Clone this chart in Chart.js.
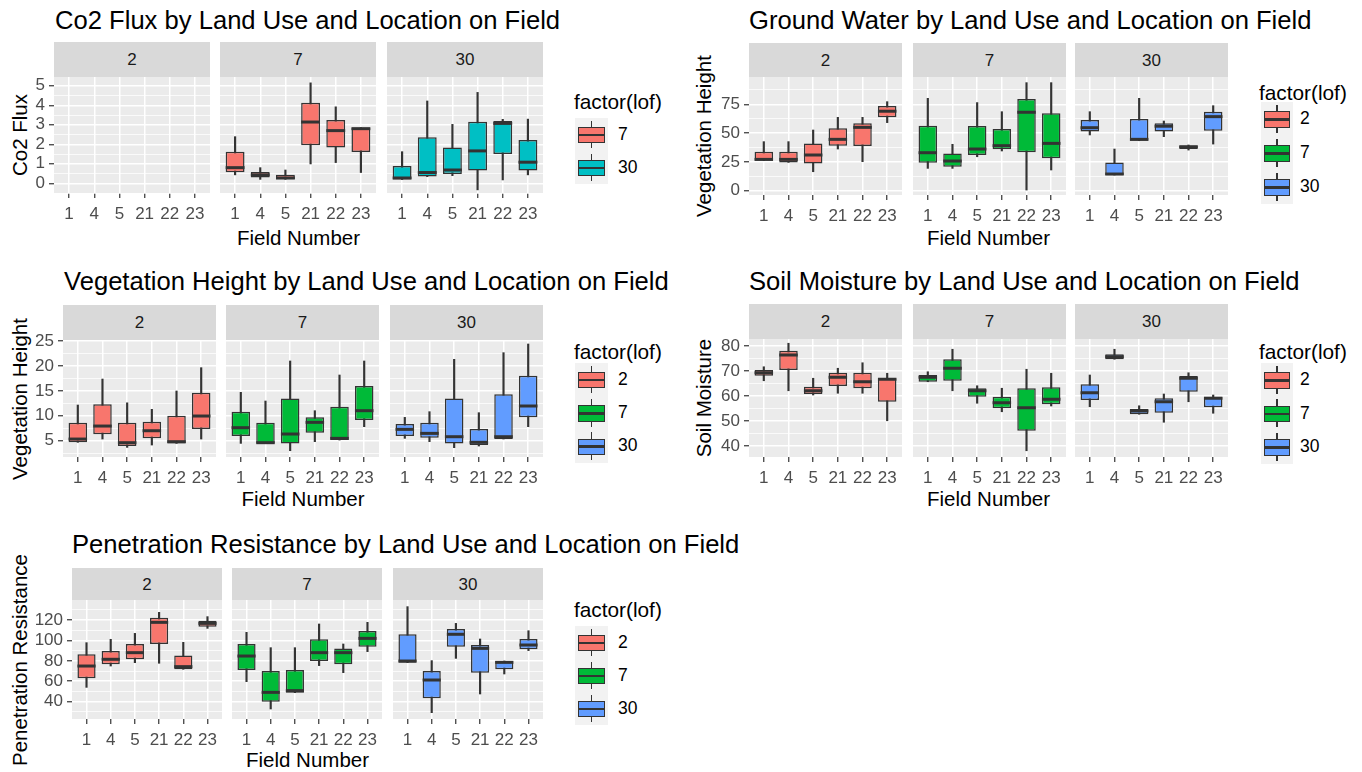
<!DOCTYPE html>
<html><head><meta charset="utf-8">
<script src="https://cdn.jsdelivr.net/npm/chart.js@4.4.0/dist/chart.umd.min.js"></script>
<style>
html,body{margin:0;padding:0;background:#fff;}
body{width:1362px;height:772px;overflow:hidden;position:relative;font-family:"Liberation Sans",Arial,sans-serif;}
.t{position:absolute;line-height:1;white-space:nowrap;}
canvas{position:absolute;}
.strip{position:absolute;background:#D9D9D9;color:#1A1A1A;display:flex;align-items:center;justify-content:center;line-height:1;}
.key{position:absolute;background:#F2F2F2;}
.key div{position:absolute;box-sizing:border-box;}
</style></head><body>
<script>
// ---------- categories ----------
const FIELDS = ['1','4','5','21','22','23'];
const FIELD_X = [1,2,3,4,5,6];
const FACETS = ['2','7','30'];

// ---------- five-number summaries: [lower whisker, Q1, median, Q3, upper whisker] ----------
const co2Flux_2 = [];
const co2Flux_7 = [[0.43,0.56,0.8,1.62,2.39],[0.2,0.29,0.43,0.58,0.8],[0.2,0.2,0.27,0.43,0.68],[0.99,1.95,3.14,4.13,5.15],[1.06,1.83,2.7,3.24,3.92],[0.55,1.6,2.8,2.85,2.85]];
const co2Flux_30 = [[0.19,0.19,0.27,0.89,1.62],[0.34,0.34,0.55,2.36,4.22],[0.39,0.48,0.68,1.83,3.02],[-0.34,0.65,1.66,3.16,4.66],[0.17,1.5,3.07,3.19,3.28],[0.43,0.65,1.08,2.22,3.29]];

const groundWater_2 = [[26.1,26.1,27.2,33.9,42.6],[24.6,24.6,27.2,33.9,42.6],[16.5,23.7,31,41.1,52.7],[36.2,39.1,44.6,54.2,63.7],[25.2,38.8,55,58.5,63.7],[59.1,63.7,69,73.6,77.3]];
const groundWater_7 = [[19.4,24.3,33,56.5,80.2],[19.4,20.9,25.8,32.4,40.3],[29.5,31,36.2,56.2,76.5],[34.5,35.9,39.1,53.6,68.6],[0.6,33.3,68.1,79.6,93.8],[18,28.1,41.1,67.2,93.8]];
const groundWater_30 = [[48.4,51.3,54.7,61.4,68.6],[13.6,13.6,14.5,24.6,36.2],[43.4,43.4,44.6,62.3,80.2],[46.9,51.3,56,58.5,60.5],[35.3,36.2,38.2,39.1,39.7],[40.5,52.1,64.3,68.6,73.8]];

const vegHeight_2 = [[4.67,4.67,5.33,8.61,12.16],[5.33,6.27,7.94,12.29,17.37],[3.66,3.93,4.6,8.6,12.6],[4.13,5.47,7.0,8.81,11.29],[4.46,4.46,4.8,10.0,14.97],[5.33,7.34,9.95,14.63,19.65]];
const vegHeight_7 = [[4.46,5.94,7.61,10.82,14.7],[4.46,4.46,4.6,8.61,12.96],[2.99,4.46,6.34,13.49,20.99],[4.8,6.6,8.68,9.68,11.02],[5.13,5.13,5.47,11.82,18.18],[7.81,9.15,11.02,15.97,20.99]];
const vegHeight_30 = [[5.47,5.94,7.27,8.34,9.68],[4.8,5.6,6.47,8.61,10.82],[3.6,4.46,5.8,13.49,21.32],[3.93,4.13,4.67,7.34,10.62],[5.33,5.33,5.8,14.3,22.66],[7.81,9.68,11.96,18.04,24.4]];

const soilMoisture_2 = [[66.1,68.1,69.3,70.4,71.7],[62.1,70.4,76.4,78.1,81.1],[60.4,60.8,62.1,63.7,67.1],[61.1,64,67.5,69.3,71.1],[61.1,63.1,65.7,69.3,73.3],[50.1,57.7,66.7,67.1,69.1]];
const soilMoisture_7 = [[65.7,65.7,67.5,68.4,69.7],[62.1,66.1,71.1,74.7,78.7],[57.1,59.7,62.1,63.1,64.1],[53.7,55.1,57.3,59.7,63.1],[38.1,46.1,55.3,63.1,70.7],[56,56.7,58.7,63.5,69.1]];
const soilMoisture_30 = [[55.7,58.4,61.3,64.7,68.4],[74.7,74.7,75.7,76.7,78.7],[52.7,52.7,54,54.8,56.1],[49.5,53.3,57.7,59.1,60.8],[57.7,61.7,67.1,68,69.3],[53.1,55.5,59.1,59.7,60.4]];

const penResist_2 = [[54,62.9,74.9,86.4,97.8],[74.9,76.6,81.5,89.6,101.1],[78.2,81.5,88,96.5,106.9],[77.6,96.5,117.7,122.3,127.5],[71.7,71.7,74.3,85.1,98.1],[111.8,113.5,116.7,119.3,123.3]];
const penResist_7 = [[59.6,71,84.7,96.5,107.9],[32.8,40,49.1,70,92.9],[48.8,48.8,50.8,71,92.9],[75.3,79.8,88,101.1,116.1],[68.4,76.6,88,92.2,96.5],[89,93.9,102,109.2,117.7]];
const penResist_30 = [[78.2,78.2,79.8,106,133.1],[29.2,43.3,61.2,70,80.2],[82.4,93.9,106,111.2,116.7],[47.5,68.4,92.2,95.5,101.4],[67.1,71.7,78.5,79.8,79.8],[90,91.3,95.5,101.4,109.5]];

// ---------- tick labels ----------
const co2Ticks = [0,1,2,3,4,5];
const gwTicks = [0,25,50,75];
const vhTicks = [5,10,15,20,25];
const smTicks = [40,50,60,70,80];
const prTicks = [40,60,80,100,120];
const co2Legend = ['7','30'];
const lofLegend = ['2','7','30'];

// ---------- styling ----------
const FONT = '"Liberation Sans", Arial, sans-serif';
function fontAvailable(name) {
  const c = document.createElement('canvas').getContext('2d');
  c.font = '20px monospace';
  const a = c.measureText('abcdefghij0123456789').width;
  c.font = `20px "${name}", monospace`;
  const b = c.measureText('abcdefghij0123456789').width;
  return Math.abs(a - b) > 0.5;
}
const HAS_NARROW = fontAvailable('Liberation Sans Narrow');
const SMALL_FONT = HAS_NARROW ? '"Liberation Sans Narrow", "Liberation Sans", Arial, sans-serif' : FONT;
const SMALL_SIZE = HAS_NARROW ? 19.5 : 17;

const RED = '#F8766D', GREEN = '#00BA38', BLUE = '#619CFF', TEAL = '#00BFC4';
const LINE = '#333333';

const panels = [
  {title:'Co2 Flux by Land Use and Location on Field', titleX:55, titleY:21, yTitle:'Co2 Flux', yTitleX:19.5, yTitleY:135,
   facetX:[54,220,387], facetW:156, stripTop:42, plotTop:77, plotBottom:193, yMin:-0.5, yMax:5.45, majors:co2Ticks,
   data:[co2Flux_2, co2Flux_7, co2Flux_30], colors:[RED, RED, TEAL], xTitleY:238,
   legend:{titleX:574, titleY:102, keyX:575, keyTop:118, keyH:33, keyW:33, labelX:618, labels:co2Legend, colors:[RED,TEAL]}},
  {title:'Ground Water by Land Use and Location on Field', titleX:749, titleY:21, yTitle:'Vegetation Height', yTitleX:704, yTitleY:136,
   facetX:[749,913,1075], facetW:153, stripTop:43, plotTop:77, plotBottom:195, yMin:-3.7, yMax:98.7, majors:gwTicks,
   data:[groundWater_2, groundWater_7, groundWater_30], colors:[RED, GREEN, BLUE], xTitleY:238,
   legend:{titleX:1259, titleY:93, keyX:1261, keyTop:102, keyH:34, keyW:32, labelX:1300, labels:lofLegend, colors:[RED,GREEN,BLUE]}},
  {title:'Vegetation Height by Land Use and Location on Field', titleX:64, titleY:282, yTitle:'Vegetation Height', yTitleX:19.5, yTitleY:398.5,
   facetX:[63,226,390], facetW:153, stripTop:305, plotTop:340, plotBottom:457, yMin:1.73, yMax:25.2, majors:vhTicks,
   data:[vegHeight_2, vegHeight_7, vegHeight_30], colors:[RED, GREEN, BLUE], xTitleY:499,
   legend:{titleX:574, titleY:352, keyX:575, keyTop:363, keyH:33.3, keyW:33, labelX:618, labels:lofLegend, colors:[RED,GREEN,BLUE]}},
  {title:'Soil Moisture by Land Use and Location on Field', titleX:749, titleY:282, yTitle:'Soil Moisture', yTitleX:704, yTitleY:398,
   facetX:[749,913,1075], facetW:153, stripTop:304, plotTop:339, plotBottom:457, yMin:35.6, yMax:82.8, majors:smTicks,
   data:[soilMoisture_2, soilMoisture_7, soilMoisture_30], colors:[RED, GREEN, BLUE], xTitleY:499,
   legend:{titleX:1259, titleY:352, keyX:1261, keyTop:363, keyH:33.7, keyW:32, labelX:1300, labels:lofLegend, colors:[RED,GREEN,BLUE]}},
  {title:'Penetration Resistance by Land Use and Location on Field', titleX:72, titleY:545, yTitle:'Penetration Resistance', yTitleX:19.5, yTitleY:659.5,
   facetX:[72,232,393], facetW:150, stripTop:568, plotTop:600, plotBottom:719, yMin:23, yMax:139.6, majors:prTicks,
   data:[penResist_2, penResist_7, penResist_30], colors:[RED, GREEN, BLUE], xTitleY:760,
   legend:{titleX:574, titleY:610, keyX:575, keyTop:626, keyH:33, keyW:33, labelX:618, labels:lofLegend, colors:[RED,GREEN,BLUE]}}
];

function addText(str, x, y, size, color, mode, family) {
  const d = document.createElement('div');
  d.className = 't';
  d.textContent = str;
  d.style.fontSize = size + 'px';
  d.style.color = color;
  if (family) d.style.fontFamily = family;
  d.style.left = x + 'px';
  d.style.top = y + 'px';
  if (mode === 'center') d.style.transform = 'translate(-50%,-50%)';
  else if (mode === 'rot') d.style.transform = 'translate(-50%,-50%) rotate(-90deg)';
  else d.style.transform = 'translate(0,-50%)';
  document.body.appendChild(d);
}

function addStrip(label, x, y, w, h) {
  const d = document.createElement('div');
  d.className = 'strip';
  d.style.left = x + 'px'; d.style.top = y + 'px';
  d.style.width = w + 'px'; d.style.height = h + 'px';
  d.style.fontFamily = SMALL_FONT; d.style.fontSize = SMALL_SIZE + 'px';
  d.textContent = label;
  document.body.appendChild(d);
}

function addKey(x, y, w, h, color) {
  const k = document.createElement('div');
  k.className = 'key';
  k.style.left = x + 'px'; k.style.top = y + 'px';
  k.style.width = w + 'px'; k.style.height = h + 'px';
  const wh = document.createElement('div');
  wh.style.cssText = `left:${w/2-0.75}px;top:${h*0.08}px;width:1.5px;height:${h*0.83}px;background:${LINE};`;
  const bx = document.createElement('div');
  bx.style.cssText = `left:${w*0.1}px;top:${h*0.27}px;width:${w*0.8}px;height:${h*0.49}px;background:${color};border:1.5px solid ${LINE};`;
  const md = document.createElement('div');
  md.style.cssText = `left:${w*0.1}px;top:${h*0.515-1.25}px;width:${w*0.8}px;height:2.5px;background:${LINE};`;
  k.appendChild(wh); k.appendChild(bx); k.appendChild(md);
  document.body.appendChild(k);
}

const bgPlugin = {
  id: 'panelBg',
  beforeDraw(chart) {
    const {ctx, chartArea: a} = chart;
    ctx.save();
    ctx.fillStyle = '#EBEBEB';
    ctx.fillRect(a.left, a.top, a.right - a.left, a.bottom - a.top);
    ctx.restore();
  }
};

function facetChart(p, fi) {
  const stats = p.data[fi];
  const first = fi === 0;
  const axW = first ? 50 : 0, padT = 12, axH = 40;
  const plotL = p.facetX[fi], plotW = p.facetW, plotH = p.plotBottom - p.plotTop;
  const cv = document.createElement('canvas');
  cv.width = axW + plotW; cv.height = padT + plotH + axH;
  cv.style.left = (plotL - axW) + 'px';
  cv.style.top = (p.plotTop - padT) + 'px';
  cv.style.width = cv.width + 'px'; cv.style.height = cv.height + 'px';
  document.body.appendChild(cv);

  const step = p.majors[1] - p.majors[0];
  const isMajor = v => p.majors.some(m => Math.abs(m - v) < 1e-9);
  const yTicks = [];
  for (let v = p.majors[0] - step / 2; v <= p.majors[p.majors.length - 1] + step / 2 + 1e-9; v += step / 2) {
    const r = +v.toFixed(6);
    if (r >= p.yMin && r <= p.yMax) yTicks.push(r);
  }

  const whisk = stats.map((s, i) => ({x: FIELD_X[i], y: [s[0], s[4]]}));
  const box = stats.map((s, i) => ({x: FIELD_X[i], y: [s[1], s[3]]}));
  const med = stats.map((s, i) => ({x: FIELD_X[i], y: s[2]}));
  const halfBox = ctx => {
    const s = ctx.chart.scales.x;
    return Math.abs(s.getPixelForValue(1.375) - s.getPixelForValue(1));
  };
  const color = p.colors[fi];

  new Chart(cv, {
    type: 'bar',
    data: {datasets: [
      {type: 'bar', data: whisk, backgroundColor: LINE, borderWidth: 0, barThickness: 1.5, grouped: false, order: 3},
      {type: 'bar', data: box, backgroundColor: color, borderColor: LINE, borderWidth: 1.5, borderSkipped: false,
       barPercentage: 0.75, categoryPercentage: 1, grouped: false, order: 2},
      {type: 'line', data: med, showLine: false, pointStyle: 'line', pointRadius: halfBox, pointHoverRadius: halfBox,
       pointBorderColor: LINE, pointBorderWidth: 3, order: 1}
    ]},
    options: {
      responsive: false, animation: false, devicePixelRatio: 1, events: [],
      layout: {padding: {top: padT, left: 0, right: 0, bottom: 0}, autoPadding: false},
      plugins: {legend: {display: false}, tooltip: {enabled: false}},
      scales: {
        x: {
          type: 'linear', min: 0.4, max: 6.6, offset: false, bounds: 'data',
          grid: {offset: false, color: '#FFFFFF', lineWidth: 1.5, tickColor: LINE, tickLength: 5, tickWidth: 1.2, drawTicks: true},
          border: {display: false},
          afterBuildTicks: s => { s.ticks = FIELD_X.map(v => ({value: v})); },
          ticks: {autoSkip: false, maxRotation: 0, minRotation: 0, padding: 6, color: '#4D4D4D', font: {family: SMALL_FONT, size: SMALL_SIZE},
                  callback: v => FIELDS[FIELD_X.indexOf(v)]},
          afterFit: s => { s.height = axH; s.paddingLeft = 0; s.paddingRight = 0; }
        },
        y: {
          type: 'linear', min: p.yMin, max: p.yMax, bounds: 'data',
          grid: {color: '#FFFFFF',
                 lineWidth: c => (c.tick && !isMajor(c.tick.value)) ? 0.75 : 1.5,
                 tickColor: c => (first && c.tick && isMajor(c.tick.value)) ? LINE : 'rgba(0,0,0,0)',
                 tickLength: 5, tickWidth: 1.2, drawTicks: first},
          border: {display: false},
          afterBuildTicks: s => { s.ticks = yTicks.map(v => ({value: v})); },
          ticks: {display: first, padding: 4, color: '#4D4D4D', font: {family: SMALL_FONT, size: SMALL_SIZE}, autoSkip: false,
                  callback: v => isMajor(v) ? String(v) : ''},
          afterFit: s => { s.width = axW; s.paddingTop = 0; s.paddingBottom = 0; }
        }
      }
    },
    plugins: [bgPlugin]
  });
}

panels.forEach(p => {
  addText(p.title, p.titleX, p.titleY, 25.6, '#000', 'left');
  addText(p.yTitle, p.yTitleX, p.yTitleY, 20.5, '#000', 'rot');
  const xc = (p.facetX[0] + p.facetX[2] + p.facetW) / 2;
  addText('Field Number', xc, p.xTitleY, 20.5, '#000', 'center');
  FACETS.forEach((f, i) => addStrip(f, p.facetX[i], p.stripTop, p.facetW, p.plotTop - p.stripTop));
  FACETS.forEach((f, i) => facetChart(p, i));
  const L = p.legend;
  addText('factor(lof)', L.titleX, L.titleY, 20.8, '#000', 'left');
  L.labels.forEach((lab, i) => {
    const ky = L.keyTop + i * L.keyH;
    addKey(L.keyX, ky, L.keyW, L.keyH, L.colors[i]);
    addText(lab, L.labelX, ky + L.keyH / 2, HAS_NARROW ? 20.5 : 17.5, '#000', 'left', SMALL_FONT);
  });
});
</script>
</body></html>
